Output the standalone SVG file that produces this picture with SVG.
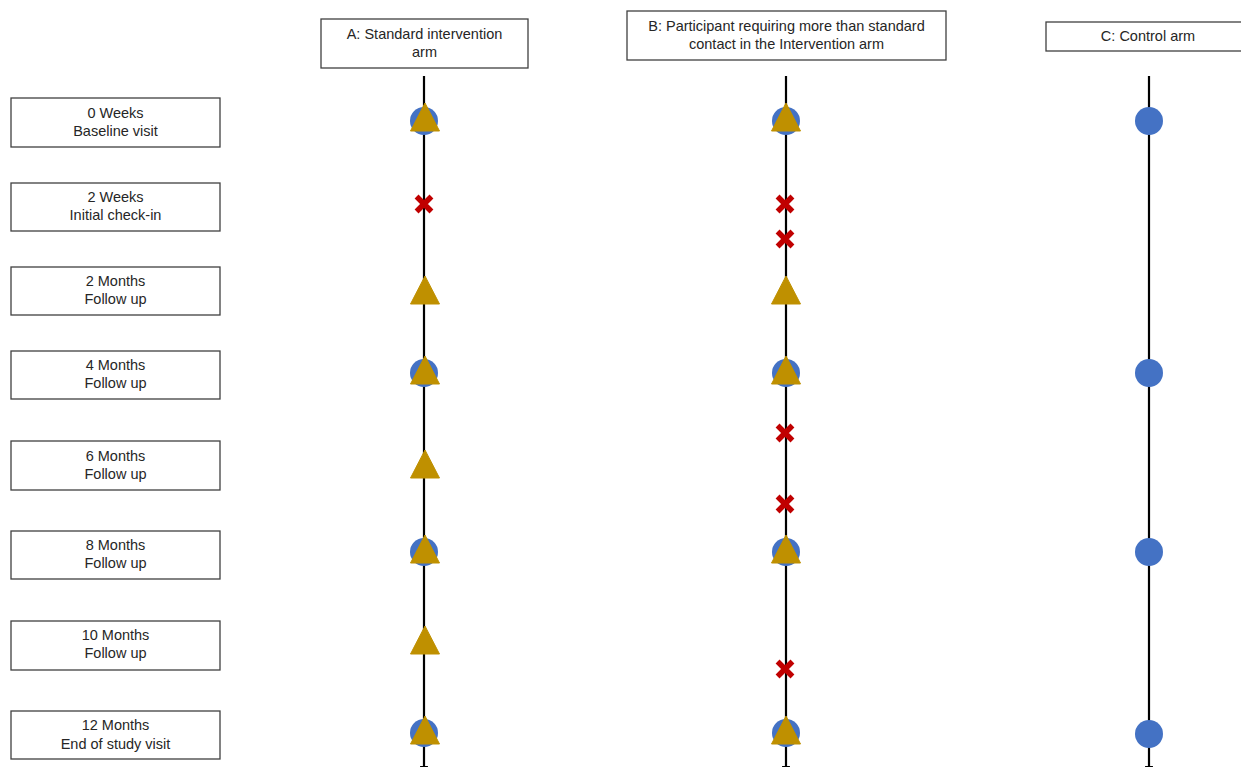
<svg xmlns="http://www.w3.org/2000/svg" width="1241" height="767" viewBox="0 0 1241 767">
<defs>
<style>
.box{fill:#fff;stroke:#404040;stroke-width:1.3}
.t{font-family:"Liberation Sans",Arial,sans-serif;font-size:14.5px;fill:#262626;text-anchor:middle}
.ln{stroke:#000;stroke-width:2.2;fill:none}
.c{fill:#4472C4}
.tri{fill:#BF9000;stroke:#BF9000;stroke-width:1}
.x{stroke:#C00000;stroke-width:5.5;stroke-linecap:square;fill:none}
</style>
<marker id="ah" viewBox="0 0 10 10" refX="5" refY="5" markerWidth="4" markerHeight="4" orient="auto">
<path d="M0,0 L10,5 L0,10 z" fill="#000"/>
</marker>
<circle id="dot" r="14" class="c"/>
<polygon id="tr" points="0,-15 14.5,13 -14.5,13" class="tri"/>
<path id="xx" d="M-5.5,-5.5 L5.5,5.5 M5.5,-5.5 L-5.5,5.5" class="x"/>
</defs>
<rect width="1241" height="767" fill="#fff"/>

<g id="connectors">
<line class="ln" x1="424" y1="76" x2="424" y2="770" marker-end="url(#ah)"/>
<line class="ln" x1="786" y1="76" x2="786" y2="770" marker-end="url(#ah)"/>
<line class="ln" x1="1149" y1="76" x2="1149" y2="770" marker-end="url(#ah)"/>
</g>

<g id="hdrA"><rect class="box" x="321" y="19" width="207" height="49"/><text class="t" x="424.5" y="39">A: Standard intervention</text><text class="t" x="424.5" y="57">arm</text></g>
<g id="hdrB"><rect class="box" x="627" y="11" width="319" height="49"/><text class="t" x="786.5" y="31">B: Participant requiring more than standard</text><text class="t" x="786.5" y="49">contact in the Intervention arm</text></g>
<g id="hdrC"><rect class="box" x="1046" y="22" width="200" height="29"/><text class="t" x="1148" y="41">C: Control arm</text></g>

<g id="t0"><rect class="box" x="11" y="98" width="209" height="49"/><text class="t" x="115.5" y="118">0 Weeks</text><text class="t" x="115.5" y="136">Baseline visit</text></g>
<g id="t1"><rect class="box" x="11" y="183" width="209" height="48"/><text class="t" x="115.5" y="202">2 Weeks</text><text class="t" x="115.5" y="220">Initial check-in</text></g>
<g id="t2"><rect class="box" x="11" y="267" width="209" height="48"/><text class="t" x="115.5" y="286">2 Months</text><text class="t" x="115.5" y="304">Follow up</text></g>
<g id="t3"><rect class="box" x="11" y="351" width="209" height="48"/><text class="t" x="115.5" y="370">4 Months</text><text class="t" x="115.5" y="388">Follow up</text></g>
<g id="t4"><rect class="box" x="11" y="441" width="209" height="49"/><text class="t" x="115.5" y="461">6 Months</text><text class="t" x="115.5" y="479">Follow up</text></g>
<g id="t5"><rect class="box" x="11" y="531" width="209" height="48"/><text class="t" x="115.5" y="550">8 Months</text><text class="t" x="115.5" y="568">Follow up</text></g>
<g id="t6"><rect class="box" x="11" y="621" width="209" height="49"/><text class="t" x="115.5" y="640">10 Months</text><text class="t" x="115.5" y="658">Follow up</text></g>
<g id="t7"><rect class="box" x="11" y="711" width="209" height="48"/><text class="t" x="115.5" y="730">12 Months</text><text class="t" x="115.5" y="749">End of study visit</text></g>

<g id="armA">
<use href="#dot" x="424" y="121"/><use href="#tr" x="425" y="118"/>
<use href="#xx" x="424" y="204"/>
<use href="#tr" x="425" y="291"/>
<use href="#dot" x="424" y="373"/><use href="#tr" x="425" y="371"/>
<use href="#tr" x="425" y="465"/>
<use href="#dot" x="424" y="552"/><use href="#tr" x="425" y="550"/>
<use href="#tr" x="425" y="641"/>
<use href="#dot" x="424" y="733"/><use href="#tr" x="425" y="731"/>
</g>
<g id="armB">
<use href="#dot" x="786" y="121"/><use href="#tr" x="786" y="118"/>
<use href="#xx" x="785" y="204"/>
<use href="#xx" x="785" y="239"/>
<use href="#tr" x="786" y="291"/>
<use href="#dot" x="786" y="373"/><use href="#tr" x="786" y="371"/>
<use href="#xx" x="785" y="433"/>
<use href="#xx" x="785" y="504"/>
<use href="#dot" x="786" y="552"/><use href="#tr" x="786" y="550"/>
<use href="#xx" x="785" y="669"/>
<use href="#dot" x="786" y="733"/><use href="#tr" x="786" y="731"/>
</g>
<g id="armC">
<use href="#dot" x="1149" y="121"/>
<use href="#dot" x="1149" y="373"/>
<use href="#dot" x="1149" y="552"/>
<use href="#dot" x="1149" y="734"/>
</g>
</svg>
